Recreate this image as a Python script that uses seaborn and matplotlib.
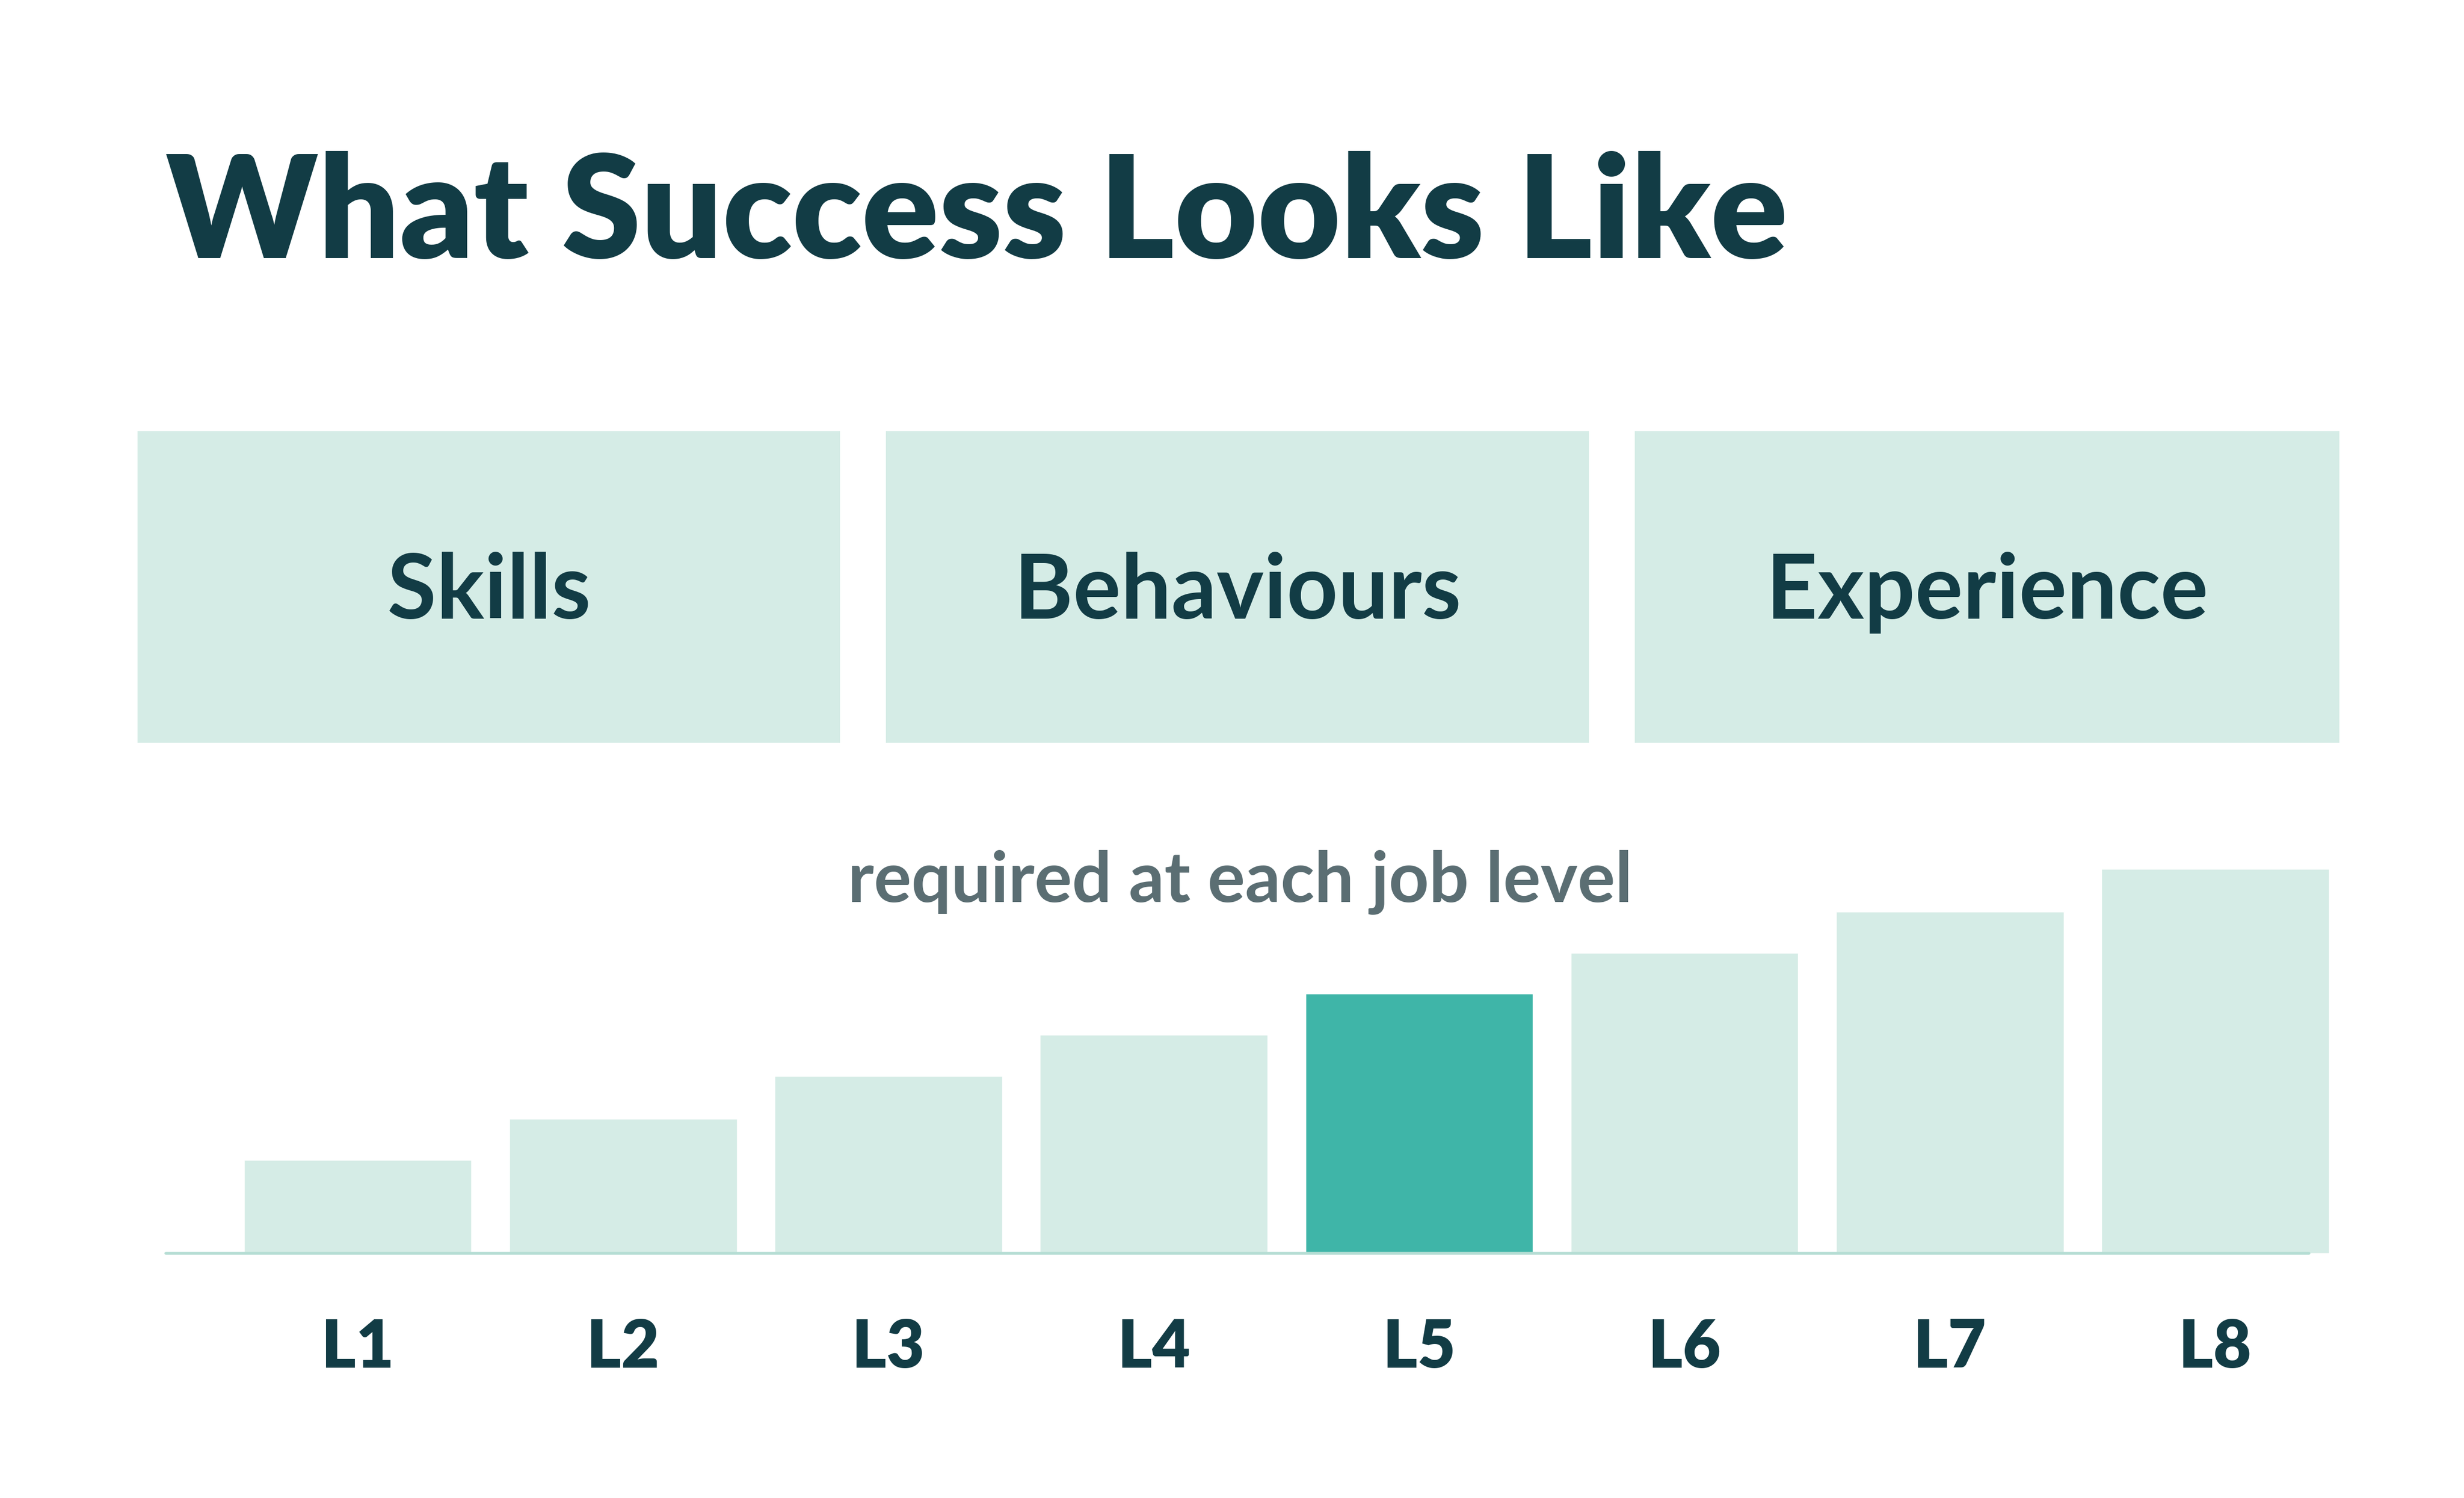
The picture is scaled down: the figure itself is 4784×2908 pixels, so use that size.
import matplotlib
matplotlib.use("Agg")
import matplotlib.pyplot as plt
import seaborn as sns
import pandas as pd
from matplotlib.patches import Rectangle

levels = ["L1", "L2", "L3", "L4", "L5", "L6", "L7", "L8"]
values = [59, 85, 112, 138, 164, 190, 216, 243]
highlight = "L5"
pillars = ["Skills", "Behaviours", "Experience"]
title = "What Success Looks Like"
subtitle = "required at each job level"

DARK = "#123C45"
MINT = "#D5ECE6"
TEAL = "#3FB5A8"
GREY = "#5B6E73"

sns.set_theme(style="white")
plt.rcParams['font.family'] = ['Lato', 'DejaVu Sans']

W, H = 1560, 948
fig = plt.figure(figsize=(47.84, 29.08), dpi=100)
fig.patch.set_facecolor("white")

fig.text(105/W, 1-137/H, title, fontsize=200, fontweight="heavy", color=DARK, va="center", ha="left")

boxes = [(87, 532), (561, 1006), (1035, 1481)]
for (x0, x1), name in zip(boxes, pillars):
    fig.patches.append(Rectangle((x0/W, 1-470/H), (x1-x0)/W, 197/H, transform=fig.transFigure,
                                 facecolor=MINT, edgecolor="none"))
    fig.text((x0+x1)/2/W, 1-375/H, name, fontsize=125, fontweight="bold", color=DARK,
             ha="center", va="center")

fig.text(785/W, 1-558/H, subtitle, fontsize=98, fontweight="bold", color=GREY, ha="center", va="center")

ax = fig.add_axes([105/W, 1-793/H, 1375/W, 243/H])
df = pd.DataFrame({"level": levels, "value": values})
pal = {l: (TEAL if l == highlight else MINT) for l in levels}
sns.barplot(data=df, x="level", y="value", hue="level", palette=pal, width=144/168,
            ax=ax, legend=False, saturation=1)
ax.set_xlim((105-226.5)/168, (1480-226.5)/168)
ax.set_ylim(0, 243)
ax.plot([(105-226.5)/168, (1462-226.5)/168], [0, 0], color="#B5DDD4", lw=4, clip_on=False, zorder=5)
for s in ax.spines.values():
    s.set_visible(False)
ax.set_yticks([])
ax.set_xlabel(""); ax.set_ylabel("")
ax.tick_params(axis="x", length=0, pad=90)
for t in ax.get_xticklabels():
    t.set_fontsize(92); t.set_fontweight("heavy"); t.set_color(DARK)
ax.set_facecolor("none")

fig.savefig("out.png", dpi=100, facecolor="white")
